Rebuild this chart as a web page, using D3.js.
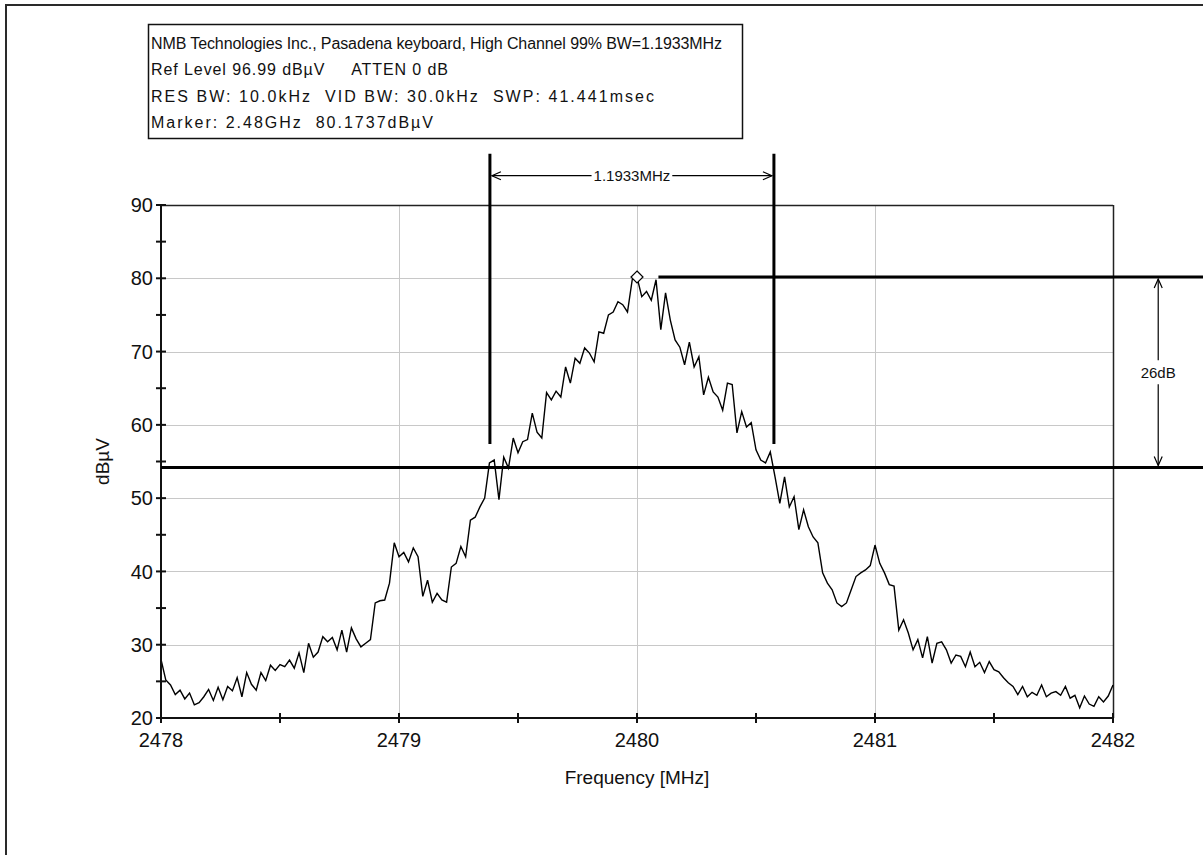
<!DOCTYPE html>
<html>
<head>
<meta charset="utf-8">
<script src="https://cdn.jsdelivr.net/npm/d3@7"></script>
<style>
  html, body { margin: 0; padding: 0; background: #fff; }
  svg { display: block; font-family: "Liberation Sans", Arial, sans-serif; }
  .info { white-space: pre; }
</style>
</head>
<body>
<svg id="chart" width="1203" height="855"></svg>
<script>
// Spectrum sweep, 2478–2482 MHz, 0.02 MHz per sample (dBµV)
const freqStart = 2478;
const freqStep = 0.02;
const level = [
  28.0, 25.2, 24.5, 23.2, 23.8, 22.6, 23.4, 21.8, 22.1, 22.9,
  23.9, 22.4, 24.2, 22.5, 24.3, 23.7, 25.5, 22.9, 26.2, 24.6,
  23.8, 26.2, 25.1, 27.2, 26.5, 27.3, 27.0, 27.9, 26.8, 28.9,
  26.2, 30.2, 28.3, 29.0, 31.1, 30.4, 31.0, 29.3, 32.0, 29.0,
  32.3, 30.8, 29.7, 30.2, 30.7, 35.7, 36.0, 36.1, 38.4, 43.9,
  42.0, 42.6, 41.3, 43.2, 42.0, 36.6, 38.8, 35.8, 37.0, 36.1,
  35.8, 40.6, 41.1, 43.4, 42.0, 47.0, 47.4, 48.8, 50.0, 54.8,
  55.2, 49.8, 55.6, 54.1, 58.2, 56.2, 57.7, 58.0, 61.6, 59.0,
  58.2, 64.4, 63.4, 64.6, 63.8, 67.9, 65.7, 69.1, 68.4, 70.5,
  69.8, 68.6, 72.7, 72.5, 75.0, 75.4, 76.8, 76.4, 75.4, 79.8,
  80.17, 77.5, 78.2, 77.0, 79.8, 73.0, 78.0, 74.3, 71.6, 70.6,
  68.2, 71.3, 67.9, 69.3, 64.1, 66.5, 64.5, 63.8, 62.0, 65.7,
  65.5, 58.9, 61.8, 59.7, 60.3, 56.6, 55.2, 54.8, 56.3, 52.9,
  49.3, 52.9, 48.8, 50.2, 45.7, 48.4, 46.1, 44.7, 43.9, 39.8,
  38.4, 37.5, 35.7, 35.2, 35.7, 37.5, 39.3, 39.8, 40.2, 40.8,
  43.6, 41.1, 39.8, 38.2, 38.0, 32.0, 33.4, 31.6, 29.3, 30.7,
  28.2, 31.1, 27.5, 30.2, 30.4, 29.3, 27.5, 28.6, 28.4, 27.0,
  29.0, 27.0, 27.6, 26.2, 27.7, 26.6, 26.3, 25.5, 24.8, 24.3,
  23.2, 24.3, 22.9, 23.5, 23.1, 24.5, 22.9, 23.4, 23.6, 23.1,
  24.3, 22.7, 23.1, 21.4, 23.0, 21.9, 21.6, 22.9, 22.2, 23.0,
  24.5
];

// Axis ticks
const xMajorTicks = [2478, 2479, 2480, 2481, 2482];
const xMinorTicks = [2478.5, 2479.5, 2480.5, 2481.5];
const yMajorTicks = [20, 30, 40, 50, 60, 70, 80, 90];
const yMinorTicks = [25, 35, 45, 55, 65, 75, 85];

// Measurement annotations
const infoLines = [
  "NMB Technologies Inc., Pasadena keyboard, High Channel 99% BW=1.1933MHz",
  "Ref Level 96.99 dBµV     ATTEN 0 dB",
  "RES BW: 10.0kHz  VID BW: 30.0kHz  SWP: 41.441msec",
  "Marker: 2.48GHz  80.1737dBµV"
];
const refLevel = 96.99;
const markerFreq = 2480.0;
const markerLevel = 80.1737;
const obwLow = 2479.382;
const obwWidth = 1.1933;
const obwLabel = "1.1933MHz";
const obwArrowLevel = 94.0;
const obwLineBottom = 57.4;
const dropDb = 26;
const dropLabel = "26dB";
const dropArrowFreq = 2482.19;
const peakLineStart = 2480.09;

const svg = d3.select("#chart");
const W = 1203, H = 855;
const plot = { left: 161, right: 1113, top: 205, bottom: 718 };

const x = d3.scaleLinear().domain([2478, 2482]).range([plot.left, plot.right]);
const y = d3.scaleLinear().domain([20, 90]).range([plot.bottom, plot.top]);

const trace = level.map((v, i) => ({ f: freqStart + i * freqStep, v }));

// Window frame (left and top edges)
svg.append("line").attr("x1", 6).attr("y1", 4).attr("x2", 6).attr("y2", H)
  .attr("stroke", "#2a2a2a").attr("stroke-width", 2);
svg.append("line").attr("x1", 5).attr("y1", 5).attr("x2", W).attr("y2", 5)
  .attr("stroke", "#2a2a2a").attr("stroke-width", 2);

// Gridlines
const grid = svg.append("g").attr("stroke", "#c8c8c8").attr("stroke-width", 1);
grid.selectAll("line.h").data(yMajorTicks.filter(d => d > 20 && d < 90)).join("line")
  .attr("x1", plot.left).attr("x2", plot.right)
  .attr("y1", d => Math.round(y(d)) + 0.5).attr("y2", d => Math.round(y(d)) + 0.5);
grid.selectAll("line.v").data(xMajorTicks.filter(d => d > 2478 && d < 2482)).join("line")
  .attr("y1", plot.top).attr("y2", plot.bottom)
  .attr("x1", d => Math.round(x(d)) + 0.5).attr("x2", d => Math.round(x(d)) + 0.5);

// Plot frame: top and right thin, left and bottom axes heavier
svg.append("line").attr("x1", plot.left).attr("x2", plot.right)
  .attr("y1", plot.top + 0.5).attr("y2", plot.top + 0.5).attr("stroke", "#222").attr("stroke-width", 1.5);
svg.append("line").attr("x1", plot.right + 0.5).attr("x2", plot.right + 0.5)
  .attr("y1", plot.top).attr("y2", plot.bottom).attr("stroke", "#222").attr("stroke-width", 1.5);

// Trace
const line = d3.line().x(d => x(d.f)).y(d => y(d.v));
svg.append("path").datum(trace)
  .attr("d", line).attr("fill", "none")
  .attr("stroke", "#000").attr("stroke-width", 1.4).attr("stroke-linejoin", "miter");

// Left axis
svg.append("line").attr("x1", plot.left).attr("x2", plot.left)
  .attr("y1", plot.top).attr("y2", plot.bottom + 1).attr("stroke", "#111").attr("stroke-width", 2);
svg.append("g").attr("stroke", "#111").attr("stroke-width", 2)
  .selectAll("line").data(yMajorTicks.concat(yMinorTicks)).join("line")
  .attr("x1", plot.left - 5).attr("x2", plot.left + 5)
  .attr("y1", d => y(d)).attr("y2", d => y(d));
svg.append("g").selectAll("text").data(yMajorTicks).join("text")
  .attr("x", plot.left - 8).attr("y", d => y(d)).attr("dy", "0.36em")
  .attr("text-anchor", "end").attr("font-size", 20).attr("fill", "#111")
  .text(d => d);

// Bottom axis
svg.append("line").attr("x1", plot.left - 1).attr("x2", plot.right + 1)
  .attr("y1", plot.bottom).attr("y2", plot.bottom).attr("stroke", "#111").attr("stroke-width", 2);
svg.append("g").attr("stroke", "#111").attr("stroke-width", 2)
  .selectAll("line").data(xMajorTicks.concat(xMinorTicks)).join("line")
  .attr("x1", d => x(d)).attr("x2", d => x(d))
  .attr("y1", plot.bottom - 5).attr("y2", plot.bottom + 5);
svg.append("g").selectAll("text").data(xMajorTicks).join("text")
  .attr("x", d => x(d)).attr("y", plot.bottom + 29)
  .attr("text-anchor", "middle").attr("font-size", 20).attr("fill", "#111")
  .text(d => d);

// Axis titles
svg.append("text").attr("x", (plot.left + plot.right) / 2).attr("y", plot.bottom + 66)
  .attr("text-anchor", "middle").attr("font-size", 19).attr("fill", "#111")
  .text("Frequency [MHz]");
svg.append("text")
  .attr("transform", `translate(${plot.left - 52},${(plot.top + plot.bottom) / 2}) rotate(-90)`)
  .attr("text-anchor", "middle").attr("font-size", 19).attr("fill", "#111")
  .text("dBµV");

// 26 dB reference lines
const dropLevel = markerLevel - dropDb;
svg.append("line").attr("x1", plot.left).attr("x2", W)
  .attr("y1", y(dropLevel)).attr("y2", y(dropLevel))
  .attr("stroke", "#000").attr("stroke-width", 3);
svg.append("line").attr("x1", x(peakLineStart)).attr("x2", W)
  .attr("y1", y(markerLevel)).attr("y2", y(markerLevel))
  .attr("stroke", "#000").attr("stroke-width", 3);

// Occupied-bandwidth edges
const obwHigh = obwLow + obwWidth;
svg.append("g").attr("stroke", "#000").attr("stroke-width", 3)
  .selectAll("line").data([obwLow, obwHigh]).join("line")
  .attr("x1", d => x(d)).attr("x2", d => x(d))
  .attr("y1", y(refLevel)).attr("y2", y(obwLineBottom));

// Open arrowhead helper
function arrowHead(g, px, py, dx, dy) {
  const len = 9, half = 4;
  const nx = -dy, ny = dx;
  g.append("path")
    .attr("d", `M${px - dx * len + nx * half},${py - dy * len + ny * half}L${px},${py}L${px - dx * len - nx * half},${py - dy * len - ny * half}`)
    .attr("fill", "none").attr("stroke", "#000").attr("stroke-width", 1.2);
}

// Bandwidth dimension arrow
const bw = svg.append("g");
const ay = y(obwArrowLevel);
const xl = x(obwLow) + 2, xr = x(obwHigh) - 2;
const bwMid = (xl + xr) / 2;
const bwText = bw.append("text").attr("x", bwMid).attr("y", ay).attr("dy", "0.36em")
  .attr("text-anchor", "middle").attr("font-size", 15).attr("fill", "#111").text(obwLabel);
const bwHalf = bwText.node().getComputedTextLength() / 2 + 2;
bw.append("line").attr("x1", xl).attr("x2", bwMid - bwHalf).attr("y1", ay).attr("y2", ay)
  .attr("stroke", "#000").attr("stroke-width", 1.2);
bw.append("line").attr("x1", bwMid + bwHalf).attr("x2", xr).attr("y1", ay).attr("y2", ay)
  .attr("stroke", "#000").attr("stroke-width", 1.2);
arrowHead(bw, xl, ay, -1, 0);
arrowHead(bw, xr, ay, 1, 0);

// 26 dB dimension arrow
const dd = svg.append("g");
const dx0 = x(dropArrowFreq);
const yt = y(markerLevel) + 2, yb = y(dropLevel) - 2;
const dMid = (yt + yb) / 2;
dd.append("text").attr("x", dx0).attr("y", dMid).attr("dy", "0.36em")
  .attr("text-anchor", "middle").attr("font-size", 15).attr("fill", "#111").text(dropLabel);
dd.append("line").attr("x1", dx0).attr("x2", dx0).attr("y1", yt).attr("y2", dMid - 12)
  .attr("stroke", "#000").attr("stroke-width", 1.2);
dd.append("line").attr("x1", dx0).attr("x2", dx0).attr("y1", dMid + 12).attr("y2", yb)
  .attr("stroke", "#000").attr("stroke-width", 1.2);
arrowHead(dd, dx0, yt, 0, -1);
arrowHead(dd, dx0, yb, 0, 1);

// Peak marker
svg.append("path")
  .attr("transform", `translate(${x(markerFreq)},${y(markerLevel)})`)
  .attr("d", "M0,-6L6,0L0,6L-6,0Z")
  .attr("fill", "#fff").attr("stroke", "#000").attr("stroke-width", 1.2);

// Measurement info box; each line is fitted to its run length in the box
const infoWidths = [571, 297, 503, 282];
const box = { x: 148, y: 24, w: 594, h: 114 };
svg.append("rect").attr("x", box.x + 0.5).attr("y", box.y + 0.5)
  .attr("width", box.w).attr("height", box.h)
  .attr("fill", "#fff").attr("stroke", "#111").attr("stroke-width", 1.5);
svg.append("g").selectAll("text").data(infoLines).join("text")
  .attr("class", "info")
  .attr("x", box.x + 3).attr("y", (d, i) => box.y + 19 + i * 26.5).attr("dy", "0.36em")
  .attr("font-size", 16).attr("fill", "#111")
  .attr("textLength", (d, i) => infoWidths[i]).attr("lengthAdjust", "spacing")
  .text(d => d);
</script>
</body>
</html>
